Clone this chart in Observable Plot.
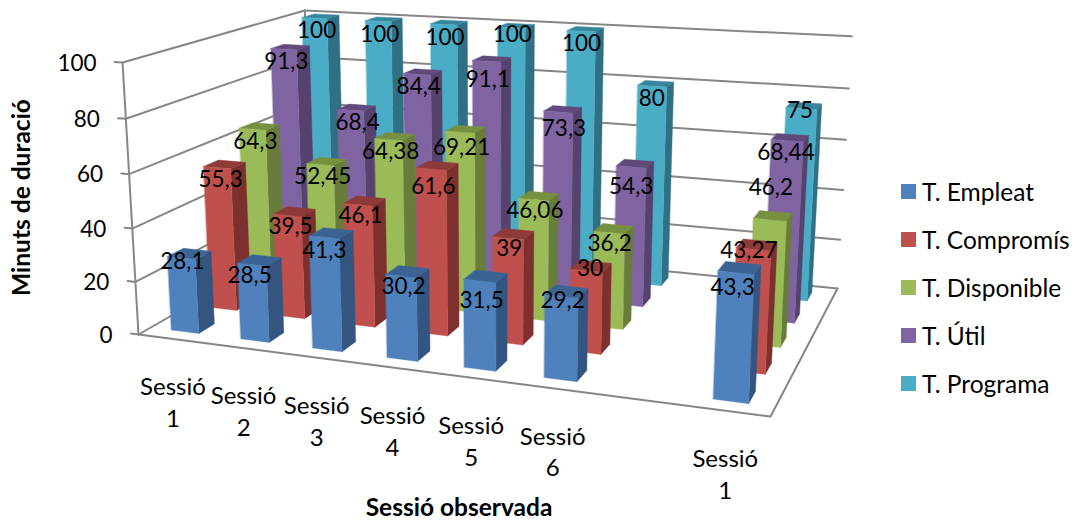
<!DOCTYPE html>
<html lang="ca">
<head>
<meta charset="utf-8">
<script src="https://cdn.jsdelivr.net/npm/d3@7"></script>
<script src="https://cdn.jsdelivr.net/npm/@observablehq/plot@0.6"></script>
<style>
  html, body { margin: 0; background: #fff; }
  #chart { position: relative; width: 1077px; height: 520px; overflow: hidden; font-family: Lato, sans-serif; color: #000; }
  #chart svg { display: block; }
  .legend { position: absolute; left: 901px; top: 167px; display: grid; row-gap: 0; }
  .legend div { display: flex; align-items: center; height: 48px; font-size: 24.5px; }
  .legend i { width: 15px; height: 15px; margin-right: 6px; display: block; }
</style>
</head>
<body>
<div id="chart"></div>
<script>
// Sessions along the floor; the empty slot separates the two observation groups.
const sessions = ["Sessió\n1", "Sessió\n2", "Sessió\n3", "Sessió\n4", "Sessió\n5", "Sessió\n6", "", "Sessió\n1"];
const seriesNames = ["T. Empleat", "T. Compromís", "T. Disponible", "T. Útil", "T. Programa"];

const empleat    = [28.1, 28.5, 41.3, 30.2, 31.5, 29.2, null, 43.3];
const compromis  = [55.3, 39.5, 46.1, 61.6, 39, 30, null, 43.27];
const disponible = [64.3, 52.45, 64.38, 69.21, 46.06, 36.2, null, 46.2];
const util       = [91.3, 68.4, 84.4, 91.1, 73.3, 54.3, null, 68.44];
const programa   = [100, 100, 100, 100, 100, 80, null, 75];
const seriesValues = [empleat, compromis, disponible, util, programa];

const valueTicks = [0, 20, 40, 60, 80, 100];

const frontColors = ["#4f81bd", "#c0504d", "#9bbb59", "#8064a2", "#4bacc6"];
const sideColors  = ["#33557f", "#7e302e", "#687d3b", "#56426f", "#2f7084"];
const topColors   = ["#3b6494", "#8e3a38", "#76903f", "#604a7b", "#37859b"];

// Hand-placed data labels, as [dx, dy] from the default spot, keyed by series-session.
const labelNudges = {
  "0-0": [-3, -7], "0-1": [-6, 0], "0-2": [-3, 3], "0-4": [0, 9], "0-5": [0, -6], "0-7": [-3, 5],
  "1-3": [0, 6], "1-5": [3, -12], "1-7": [-4, -9],
  "2-3": [0, 4], "2-7": [2, -43],
  "3-1": [5, 0], "3-3": [0, 6], "3-4": [5, 5], "3-5": [0, 8],
  "4-3": [0, -6], "4-7": [0, -10]
};

// Homogeneous camera: box coordinates (across, depth, value/100) to screen pixels.
const camera = {
  across: [527.4, 25.5, -0.1359],
  depth:  [241, -47.6, 0.2188],
  value:  [-21.2, -274.7, -0.043],
  origin: [138, 334, 1]
};
function project(u, d, v) {
  const h = v / 100;
  const c = k => camera.across[k] * u + camera.depth[k] * d + camera.value[k] * h + camera.origin[k];
  return {x: c(0) / c(2), y: c(1) / c(2)};
}

const nCat = sessions.length;
const nSer = seriesNames.length;
const barShare = 0.4; // bar thickness as a share of its slot, in both floor directions

// Polygons of every bar face, back row first so that nearer bars paint over it.
const faces = [];
const labels = [];
function addFace(id, color, corners) {
  corners.forEach(([u, d, v]) => faces.push({...project(u, d, v), id, color}));
}
for (let s = nSer - 1; s >= 0; --s) {
  seriesValues[s].forEach((value, i) => {
    if (value == null) return;
    const uc = (i + 0.5) / nCat, dc = (s + 0.5) / nSer;
    const hu = barShare / nCat / 2, hd = barShare / nSer / 2;
    const [u0, u1, d0, d1] = [uc - hu, uc + hu, dc - hd, dc + hd];
    addFace(`${s}-${i}-side`, sideColors[s], [[u1, d0, 0], [u1, d1, 0], [u1, d1, value], [u1, d0, value]]);
    addFace(`${s}-${i}-top`, topColors[s], [[u0, d0, value], [u1, d0, value], [u1, d1, value], [u0, d1, value]]);
    addFace(`${s}-${i}-front`, frontColors[s], [[u0, d0, 0], [u1, d0, 0], [u1, d0, value], [u0, d0, value]]);
    const at = project(uc, dc, value);
    const [nx, ny] = labelNudges[`${s}-${i}`] ?? [0, 0];
    labels.push({x: at.x + nx, y: at.y + ny, text: String(value).replace(".", ",")});
  });
}

// Walls, gridlines, floor edge and axis ticks of the box.
const frame = [];
function addLine(id, points) {
  points.forEach(([u, d, v]) => frame.push({...project(u, d, v), id}));
}
valueTicks.forEach(v => {
  addLine(`grid-${v}`, [[-0.014, 0, v], [0, 0, v], [0, 1, v], [1, 1, v]]);
});
addLine("left", [[0, 0, 0], [0, 0, 100]]);
addLine("back", [[0, 1, 0], [0, 1, 100]]);
addLine("floor", [[0, 0, 0], [1, 0, 0], [1, 1, 0]]);

const valueLabels = valueTicks.map(v => ({...project(0, 0, v), text: String(v)}));
const sessionLabels = sessions.map((text, i) => ({...project((i + 0.5) / nCat, 0, 0), text}));

const chart = Plot.plot({
  width: 1077,
  height: 520,
  margin: 0,
  x: {domain: [0, 1077], range: [0, 1077], axis: null},
  y: {domain: [0, 520], range: [0, 520], axis: null},
  style: {background: "#fff", fontFamily: "Lato, sans-serif"},
  marks: [
    Plot.line(frame, {x: "x", y: "y", z: "id", stroke: "#868686", strokeWidth: 2}),
    Plot.line(faces, {x: "x", y: "y", z: "id", fill: "color", stroke: "color", strokeWidth: 0.4, curve: "linear-closed"}),
    Plot.text(valueLabels, {x: "x", y: "y", text: "text", dx: -26, dy: 1, textAnchor: "end", fontSize: 22.5, fill: "#000"}),
    Plot.text(sessionLabels, {x: "x", y: "y", text: "text", dy: 62, fontSize: 24, lineHeight: 1.33, fill: "#000"}),
    Plot.text(labels, {x: "x", y: "y", text: "text", dx: -4, dy: 15, fontSize: 22.5, fill: "#000"}),
    Plot.text(["Sessió observada"], {frameAnchor: "bottom", dy: -5, dx: -80, fontSize: 24.5, fontWeight: 700, fill: "#000"}),
    Plot.text(["Minuts de duració"], {frameAnchor: "left", textAnchor: "middle", dx: 22, dy: -63, rotate: -90, fontSize: 24.5, fontWeight: 700, fill: "#000"})
  ]
});

const root = document.getElementById("chart");
root.append(chart);

// Series key to the right of the box.
const legend = document.createElement("div");
legend.className = "legend";
seriesNames.forEach((name, s) => {
  const row = document.createElement("div");
  const swatch = document.createElement("i");
  swatch.style.background = frontColors[s];
  row.append(swatch, name);
  legend.append(row);
});
root.append(legend);
</script>
</body>
</html>
